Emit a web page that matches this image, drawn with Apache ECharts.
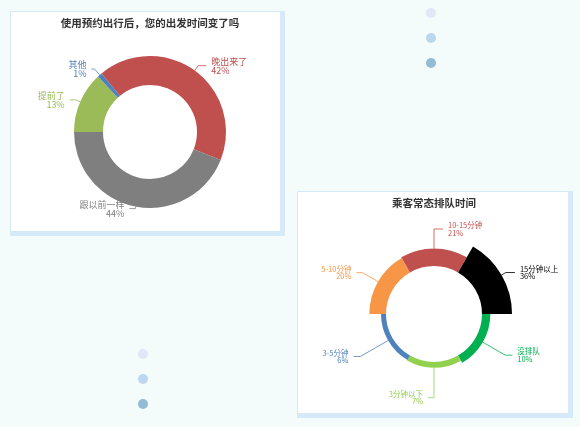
<!DOCTYPE html>
<html><head><meta charset="utf-8">
<script src="https://cdn.jsdelivr.net/npm/echarts@6/dist/echarts.min.js"></script>
<style>html,body{margin:0;padding:0;background:#f4fbfb}#c{width:580px;height:427px}</style>
</head><body><div id="c"></div>
<script>
// ---- data ----
const departNames = ['提前了', '其他', '晚出来了', '跟以前一样'];
const departValues = [13, 1, 42, 44];
const queueNames = ['没排队', '3分钟以下', '3-5分钟', '5-10分钟', '10-15分钟', '15分钟以上'];
const queueValues = [10, 7, 6, 20, 21, 36];
const chartTitles = ['使用预约出行后，您的出发时间变了吗', '乘客常态排队时间'];

// ---- styles ----
const FONT = "'Noto Sans CJK SC', 'Noto Sans', sans-serif";
const departColors = ['#9bbb59', '#4f81bd', '#c0504d', '#7f7f7f'];
const departLine = [[5, 6], [8, 3], [6, 8], [2, 6]];
const queueColors = ['#00b050', '#92d050', '#4f81bd', '#f79646', '#c0504d', '#000000'];
const queueLine = [[4.3, 7], [5.8, 6], [7, 7], [4.7, 6], [7, 9], [5, 9]];

function buildData(names, values, colors, lines) {
  return names.map((n, i) => ({
    name: n,
    value: values[i],
    itemStyle: { color: colors[i] },
    label: { color: colors[i] },
    labelLine: { length: lines[i][0], length2: lines[i][1], lineStyle: { color: colors[i] } }
  }));
}

const chart = echarts.init(document.getElementById('c'), null, { renderer: 'canvas' });

const dots = [];
const dotColors = ['#e0e7f7', '#bcd6ee', '#94bbd6'];
[[431, 13], [143, 354]].forEach(([x, y0]) => {
  dotColors.forEach((c, k) => {
    dots.push({ type: 'circle', shape: { cx: x, cy: y0 + k * 25, r: 5 }, style: { fill: c }, z: 0 });
  });
});

chart.setOption({
  backgroundColor: '#f4fbfb',
  animation: false,
  textStyle: { fontFamily: FONT },
  graphic: [
    { type: 'rect', shape: { x: 10, y: 11, width: 275, height: 225 }, style: { fill: '#d5e9f8' }, z: 0 },
    { type: 'rect', shape: { x: 11, y: 12, width: 269, height: 219 }, style: { fill: '#ffffff' }, z: 1 },
    { type: 'rect', shape: { x: 297, y: 191, width: 276, height: 227 }, style: { fill: '#d5e9f8' }, z: 0 },
    { type: 'rect', shape: { x: 298, y: 192, width: 270, height: 221 }, style: { fill: '#ffffff' }, z: 1 }
  ].concat(dots),
  title: [
    { text: chartTitles[0], left: 150, top: 18, textAlign: 'center', padding: 0,
      textStyle: { fontSize: 10.5, fontWeight: 'bold', color: '#333', fontFamily: FONT } },
    { text: chartTitles[1], left: 434, top: 198, textAlign: 'center', padding: 0,
      textStyle: { fontSize: 10.5, fontWeight: 'bold', color: '#333', fontFamily: FONT } }
  ],
  series: [
    {
      type: 'pie',
      center: [150, 132],
      radius: [47, 76],
      startAngle: 180,
      clockwise: true,
      avoidLabelOverlap: false,
      percentPrecision: 0,
      z: 3,
      label: { show: true, position: 'outside', formatter: '{b}\n{d}%', fontSize: 9, lineHeight: 9, fontFamily: FONT },
      labelLine: { show: true, smooth: false, lineStyle: { width: 0.8 } },
      emphasis: { disabled: true },
      data: buildData(departNames, departValues, departColors, departLine)
    },
    {
      type: 'pie',
      center: [434, 314],
      radius: [48, 78],
      roseType: 'area',
      startAngle: -0.01,
      clockwise: true,
      avoidLabelOverlap: false,
      percentPrecision: 0,
      z: 3,
      label: { show: true, position: 'outside', formatter: '{b}\n{d}%', fontSize: 7.5, lineHeight: 7.5, fontFamily: FONT },
      labelLine: { show: true, smooth: false, lineStyle: { width: 0.8 } },
      emphasis: { disabled: true },
      data: buildData(queueNames, queueValues, queueColors, queueLine)
    }
  ]
});
</script></body></html>
